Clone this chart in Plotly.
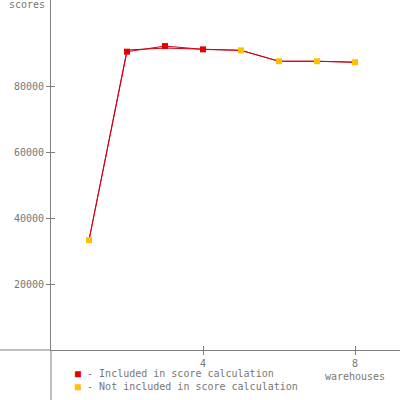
import plotly.graph_objects as go

warehouses = [1, 2, 3, 4, 5, 6, 7, 8]
scores = [33300, 90400, 92100, 91100, 90800, 87500, 87500, 87200]
scores_alt = [33300, 90900, 91500, 91100, 90800, 87500, 87500, 87200]
included = [False, True, True, True, False, False, False, False]
y_ticks = [20000, 40000, 60000, 80000]
x_ticks = [4, 8]
x_ticktext = ["4", "8<br>warehouses"]

RED = "#e80000"
ORANGE = "#ffc000"
LINE = "#d00018"
GREY = "#808080"
TXT = "#777777"
FONT = "DejaVu Sans Mono"

fig = go.Figure()
fig.add_trace(go.Scatter(x=warehouses, y=scores_alt, mode="lines",
                         line=dict(color=LINE, width=1), hoverinfo="skip"))
fig.add_trace(go.Scatter(x=warehouses, y=scores, mode="lines",
                         line=dict(color=LINE, width=1), hoverinfo="skip"))
xi = [w for w, inc in zip(warehouses, included) if inc]
yi = [s for s, inc in zip(scores, included) if inc]
xn = [w for w, inc in zip(warehouses, included) if not inc]
yn = [s for s, inc in zip(scores, included) if not inc]
fig.add_trace(go.Scatter(x=xi, y=yi, mode="markers",
                         marker=dict(symbol="square", size=6, color=RED)))
fig.add_trace(go.Scatter(x=xn, y=yn, mode="markers",
                         marker=dict(symbol="square", size=6, color=ORANGE)))

W, H = 400, 400
L, B = 51, 50
pw, ph = W - L, H - B
px_per_w = 38.0
px_per_score = 66.0 / 20000
xr = [0, pw / px_per_w]
yr = [0, ph / px_per_score]

axis_common = dict(showgrid=False, zeroline=False, showline=True, automargin=False,
                   linecolor=GREY, linewidth=1, tickcolor=GREY, ticklen=4,
                   tickfont=dict(family=FONT, size=10, color=TXT))

fig.update_layout(
    width=W, height=H, margin=dict(l=L, r=0, t=0, b=B, autoexpand=False),
    paper_bgcolor="white", plot_bgcolor="white", showlegend=False,
    xaxis=dict(range=xr, tickvals=x_ticks, ticktext=x_ticktext,
               ticks="outside", **axis_common),
    yaxis=dict(range=yr, tickvals=y_ticks, ticktext=[str(v) for v in y_ticks],
               ticks="outside", **axis_common),
    xaxis2=dict(range=xr, overlaying="x", tickvals=x_ticks, ticks="inside",
                showticklabels=False, showgrid=False, zeroline=False, automargin=False,
                tickcolor=GREY, ticklen=4, side="bottom"),
    yaxis2=dict(range=yr, overlaying="y", tickvals=y_ticks, ticks="inside",
                showticklabels=False, showgrid=False, zeroline=False, automargin=False,
                tickcolor=GREY, ticklen=4, side="left"),
)
fig.add_trace(go.Scatter(x=[None], y=[None], xaxis="x2", yaxis="y2",
                         hoverinfo="skip"))

fig.add_shape(type="line", xref="paper", yref="paper", x0=-L / pw, x1=0,
              y0=0, y1=0, line=dict(color=GREY, width=1))
fig.add_shape(type="line", xref="paper", yref="paper", x0=0, x1=0,
              y0=-B / ph, y1=0, line=dict(color=GREY, width=1))

fig.add_annotation(text="scores", xref="paper", yref="paper",
                   x=-4 / pw, y=1 - 5 / ph, xanchor="right", yanchor="middle",
                   showarrow=False, font=dict(family=FONT, size=10, color=TXT))
fig.add_annotation(
    text=(f"<span style='color:{RED}'>■</span> - Included in score calculation<br>"
          f"<span style='color:{ORANGE}'>■</span> - Not included in score calculation"),
    xref="paper", yref="paper", x=22 / pw, y=-30 / ph, align="left",
    xanchor="left", yanchor="middle", showarrow=False,
    font=dict(family=FONT, size=10, color=TXT))

fig.write_html("out.html", config={"displayModeBar": False},
               post_script="document.body.style.margin='0';")
